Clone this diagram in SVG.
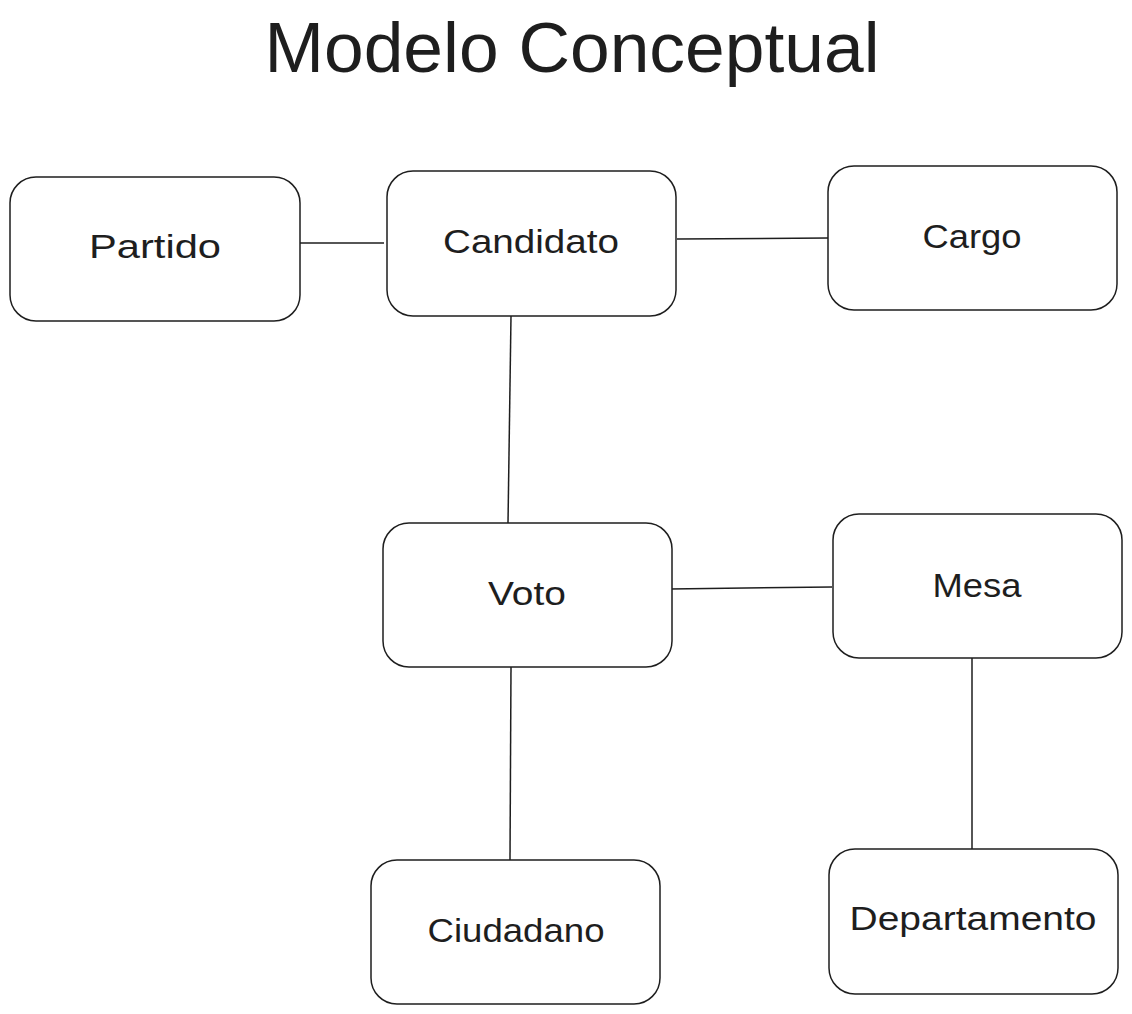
<svg xmlns="http://www.w3.org/2000/svg" width="1132" height="1014" viewBox="0 0 1132 1014">
<style>
.box{fill:#ffffff;stroke:#1e1e1e;stroke-width:1.5}
.lbl{font-family:"Liberation Sans",Arial,sans-serif;font-size:34px;fill:#1e1e1e;text-anchor:middle}
.title{font-family:"Liberation Sans",Arial,sans-serif;font-size:70px;fill:#1e1e1e;text-anchor:middle}
.conn line{stroke:#1e1e1e;stroke-width:1.5}
</style>
<rect width="1132" height="1014" fill="#ffffff"/>
<text class="title" x="572" y="72" textLength="615" lengthAdjust="spacingAndGlyphs">Modelo Conceptual</text>
<g class="conn" id="connectors">
<line x1="298" y1="243" x2="384" y2="243"/>
<line x1="677" y1="239" x2="828" y2="238"/>
<line x1="511" y1="316" x2="508" y2="523"/>
<line x1="670" y1="589" x2="832" y2="587"/>
<line x1="511" y1="667" x2="510" y2="860"/>
<line x1="972" y1="658" x2="972" y2="849"/>
</g>
<g id="partido"><rect class="box" x="10" y="177" width="290" height="144" rx="26"/><text class="lbl" x="155" y="258" textLength="132" lengthAdjust="spacingAndGlyphs">Partido</text></g>
<g id="candidato"><rect class="box" x="387" y="171" width="289" height="145" rx="26"/><text class="lbl" x="531" y="253" textLength="176" lengthAdjust="spacingAndGlyphs">Candidato</text></g>
<g id="cargo"><rect class="box" x="828" y="166" width="289" height="144" rx="26"/><text class="lbl" x="972" y="248" textLength="99" lengthAdjust="spacingAndGlyphs">Cargo</text></g>
<g id="voto"><rect class="box" x="383" y="523" width="289" height="144" rx="26"/><text class="lbl" x="527" y="605" textLength="78" lengthAdjust="spacingAndGlyphs">Voto</text></g>
<g id="mesa"><rect class="box" x="833" y="514" width="289" height="144" rx="26"/><text class="lbl" x="977" y="597" textLength="89" lengthAdjust="spacingAndGlyphs">Mesa</text></g>
<g id="ciudadano"><rect class="box" x="371" y="860" width="289" height="144" rx="26"/><text class="lbl" x="516" y="942" textLength="177" lengthAdjust="spacingAndGlyphs">Ciudadano</text></g>
<g id="departamento"><rect class="box" x="829" y="849" width="289" height="145" rx="26"/><text class="lbl" x="973" y="930" textLength="247" lengthAdjust="spacingAndGlyphs">Departamento</text></g>
</svg>
